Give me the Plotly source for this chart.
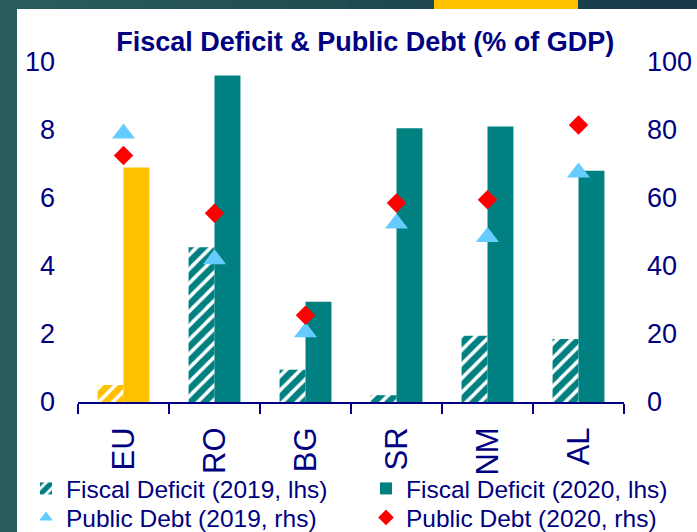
import plotly.graph_objects as go

countries = ["EU", "RO", "BG", "SR", "NM", "AL"]
fiscal_2019 = [0.5, 4.55, 0.95, 0.2, 1.95, 1.85]
fiscal_2020 = [6.9, 9.6, 2.95, 8.05, 8.1, 6.8]
debt_2019 = [79, 42, 20.5, 52.5, 48.5, 67.5]
debt_2020 = [72.5, 55.5, 25.5, 58.5, 59.5, 81.5]
left_ticks = [0, 2, 4, 6, 8, 10]
right_ticks = [0, 20, 40, 60, 80, 100]

TEAL = "#008080"
YELLOW = "#FFC000"
NAVY = "#000080"
LBLUE = "#66CCFF"
RED = "#FF0000"
FONT = "Liberation Sans, Arial, sans-serif"

W, H = 697, 532
ML, MR, MT, MB = 78, 73, 62, 130
PW, PH = W - ML - MR, H - MT - MB


def px_x(p):
    return (p - ML) / PW


def px_y(p):
    return (H - MB - p) / PH


def pick(vals, keep_eu):
    return [v for c, v in zip(countries, vals) if (c == "EU") == keep_eu]


others_x = [c for c in countries if c != "EU"]

hatch_teal = dict(shape="/", fgcolor=TEAL, bgcolor="white", size=10, solidity=0.65, fgopacity=1)
hatch_yel = dict(shape="/", fgcolor=YELLOW, bgcolor="white", size=10, solidity=0.65, fgopacity=1)

fig = go.Figure()
fig.add_trace(go.Bar(x=others_x, y=pick(fiscal_2019, False), name="Fiscal Deficit (2019, lhs)",
                     offsetgroup="a", legend="legend",
                     marker=dict(color=TEAL, pattern=hatch_teal, line=dict(width=0))))
fig.add_trace(go.Bar(x=["EU"], y=pick(fiscal_2019, True), name="EU 2019", showlegend=False,
                     offsetgroup="a", marker=dict(color=YELLOW, pattern=hatch_yel, line=dict(width=0))))
fig.add_trace(go.Bar(x=others_x, y=pick(fiscal_2020, False), name="Fiscal Deficit (2020, lhs)",
                     offsetgroup="b", legend="legend2", marker=dict(color=TEAL, line=dict(width=0))))
fig.add_trace(go.Bar(x=["EU"], y=pick(fiscal_2020, True), name="EU 2020", showlegend=False,
                     offsetgroup="b", marker=dict(color=YELLOW, line=dict(width=0))))
fig.add_trace(go.Scatter(x=countries, y=debt_2019, name="Public Debt (2019, rhs)", mode="markers",
                         yaxis="y2", legend="legend3",
                         marker=dict(symbol="triangle-up", color=LBLUE, size=20)))
fig.add_trace(go.Scatter(x=countries, y=debt_2020, name="Public Debt (2020, rhs)", mode="markers",
                         yaxis="y2", legend="legend4",
                         marker=dict(symbol="diamond", color=RED, size=15)))

# decorative frame
shapes = []
n = 24
c0 = (0x2a, 0x5c, 0x5c)
c1 = (0x16, 0x3a, 0x48)
for i in range(n):
    t = i / (n - 1)
    col = "rgb(%d,%d,%d)" % tuple(round(a + (b - a) * t) for a, b in zip(c0, c1))
    shapes.append(dict(type="rect", xref="paper", yref="paper", x0=px_x(W * i / n), x1=px_x(W * (i + 1) / n + 1),
                       y0=px_y(9), y1=px_y(0), fillcolor=col, line=dict(width=0), layer="below"))
shapes.append(dict(type="rect", xref="paper", yref="paper", x0=px_x(0), x1=px_x(17), y0=px_y(H), y1=px_y(0),
                   fillcolor="#2a5c5c", line=dict(width=0), layer="below"))
shapes.append(dict(type="rect", xref="paper", yref="paper", x0=px_x(17), x1=px_x(W), y0=px_y(H), y1=px_y(9),
                   fillcolor="white", line=dict(width=0), layer="below"))
shapes.append(dict(type="rect", xref="paper", yref="paper", x0=px_x(434), x1=px_x(578), y0=px_y(9), y1=px_y(0),
                   fillcolor=YELLOW, line=dict(width=0), layer="below"))

legend_common = dict(orientation="v", xref="container", yref="container", yanchor="top", xanchor="left",
                     font=dict(size=24.5, color=NAVY, family=FONT), bgcolor="rgba(0,0,0,0)",
                     itemsizing="constant", tracegroupgap=0)
COL1, COL2 = 26, 366
ROW1, ROW2 = 466, 495

fig.update_layout(
    width=W, height=H,
    margin=dict(l=ML, r=MR, t=MT, b=MB, autoexpand=False),
    paper_bgcolor="#1c4650",
    plot_bgcolor="white",
    barmode="group",
    bargap=0.43,
    bargroupgap=0,
    shapes=shapes,
    font=dict(family=FONT, color=NAVY),
    title=dict(text="<b>Fiscal Deficit & Public Debt (% of GDP)</b>", x=0.524, xref="container",
               xanchor="center", y=1 - 42 / H, yref="container", yanchor="middle",
               font=dict(size=27, color=NAVY, family=FONT)),
    xaxis=dict(type="category", categoryorder="array", categoryarray=countries,
               showline=True, linecolor=NAVY, linewidth=2, ticks="outside", tickson="boundaries",
               ticklen=10, tickwidth=2, tickcolor=NAVY, tickangle=-90, ticklabelstandoff=11,
               tickfont=dict(size=31, color=NAVY), showgrid=False, zeroline=False, automargin=False),
    yaxis=dict(range=[0, 10], tickvals=left_ticks, showgrid=False, zeroline=False, showline=False,
               tickfont=dict(size=27, color=NAVY), ticklabelstandoff=22, automargin=False),
    yaxis2=dict(range=[0, 100], tickvals=right_ticks, overlaying="y", side="right", showgrid=False,
                zeroline=False, showline=False, tickfont=dict(size=27, color=NAVY), ticklabelstandoff=22,
                automargin=False),
    legend=dict(x=COL1 / W, y=1 - ROW1 / H, **legend_common),
    legend2=dict(x=COL2 / W, y=1 - ROW1 / H, **legend_common),
    legend3=dict(x=COL1 / W, y=1 - ROW2 / H, **legend_common),
    legend4=dict(x=COL2 / W, y=1 - ROW2 / H, **legend_common),
    showlegend=True,
)

fig.write_html("out.html")
